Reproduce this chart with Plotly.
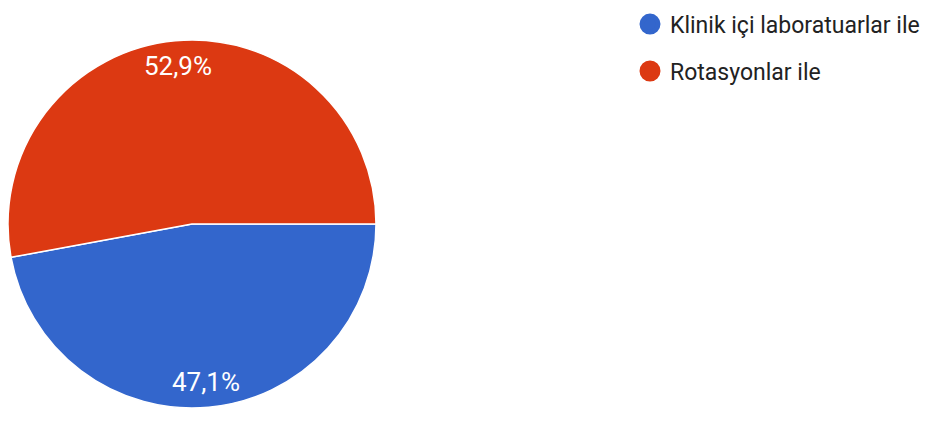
import math
import plotly.graph_objects as go

labels = ["Klinik içi laboratuarlar ile", "Rotasyonlar ile"]
values = [47.1, 52.9]
pct_text = ["47,1%", "52,9%"]
colors = ["#3366cc", "#dc3912"]

W, H = 941, 447
# pie placement (figure pixels)
CX, CY, R = 184, 216, 184
LABEL_FRAC = 0.86
FONT = "Roboto, Arial, sans-serif"

fig = go.Figure()
fig.add_trace(go.Pie(
    labels=labels, values=values, text=pct_text,
    textinfo="none",
    marker=dict(colors=colors, line=dict(color="white", width=1.5)),
    sort=False, direction="clockwise", rotation=90,
    showlegend=False, hoverinfo="label+text",
    domain=dict(x=[(CX - R) / W, (CX + R) / W],
                y=[1 - (CY + R) / H, 1 - (CY - R) / H]),
))
for i, (lab, col) in enumerate(zip(labels, colors)):
    fig.add_trace(go.Scatter(
        x=[None], y=[None], mode="markers", name=lab,
        legendgroup=str(i),
        marker=dict(symbol="circle", size=16, color=col, line=dict(color=col, width=5)),
    ))

# slice labels placed at mid-angle of each slice (derived from the values)
total = sum(values)
start = 0.0  # degrees clockwise from 3 o'clock
annotations = []
for v, t in zip(values, pct_text):
    span = 360.0 * v / total
    mid = math.radians(start + span / 2)
    px = CX + LABEL_FRAC * R * math.cos(mid)
    py = CY + LABEL_FRAC * R * math.sin(mid)
    annotations.append(dict(
        x=px / W, y=1 - py / H, xref="paper", yref="paper",
        xanchor="center", yanchor="middle",
        text=t, showarrow=False,
        font=dict(family=FONT, size=26, color="white"),
    ))
    start += span

fig.update_layout(
    width=W, height=H,
    margin=dict(l=0, r=0, t=0, b=0, autoexpand=False),
    paper_bgcolor="white", plot_bgcolor="white",
    xaxis=dict(visible=False), yaxis=dict(visible=False),
    annotations=annotations,
    legend=dict(
        x=622 / W, y=1.012, xanchor="left", yanchor="top",
        font=dict(family=FONT, size=23, color="#222222"),
        tracegroupgap=14, traceorder="grouped",
        bgcolor="rgba(0,0,0,0)",
    ),
)
fig.write_html("out.html")
